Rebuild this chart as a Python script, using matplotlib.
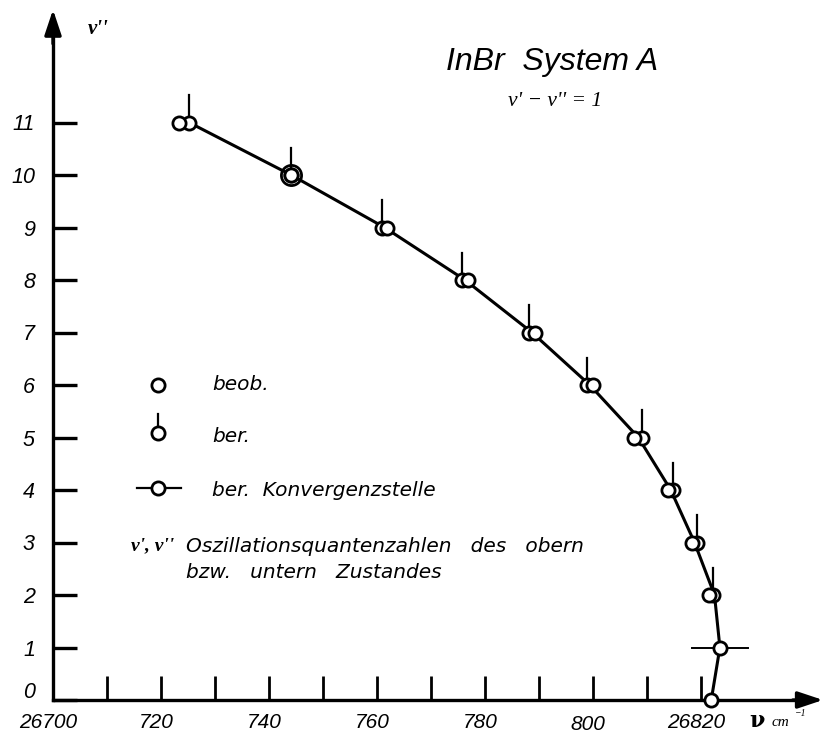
"""InBr System A, v'-v''=1: Kantenlage gegen v'' (nachgezeichnet)."""
import matplotlib
matplotlib.use('Agg')
import matplotlib.pyplot as plt
from matplotlib.ticker import FixedLocator, FixedFormatter
from matplotlib.transforms import ScaledTranslation

plt.rcParams.update({'font.family': 'Liberation Sans', 'font.style': 'italic'})

# --- data (wavenumber offset from 26700 cm-1) ---
V = [11, 10, 9, 8, 7, 6, 5, 4, 3, 2, 1, 0]
BEOB = [23.3, 44.1, 61.9, 76.9, 89.3, 100.0, 107.6, 113.9, 118.3, 121.5, None, 121.9]
BER = [25.2, 44.1, 60.9, 75.7, 88.2, 98.9, 109.1, 114.8, 119.3, 122.3, None, None]
CURVE = [25.2, 44.1, 61.4, 76.3, 88.7, 99.4, 108.4, 114.4, 118.8, 122.5, 123.5, 121.9]
KONV_V, KONV_NU, KONV_ERR = 1, 123.5, 5.2
XTICKS = list(range(0, 130, 10))
XLABELS = ['26700', '', '720', '', '740', '', '760', '', '780', '', '800', '', '26820']
YTICKS = list(range(0, 12))

W, H = 826, 735
fig = plt.figure(figsize=(W / 100, H / 100), dpi=100)
ax = fig.add_axes([0, 0, 1, 1])
# axis origin sits at pixel (53, 700); 5.4 px per cm-1, 52.5 px per v''
ax.set_xlim(-53 / 5.4, (W - 53) / 5.4)
ax.set_ylim(-(H - 700) / 52.5, 700 / 52.5)


def px(x, y):
  return x / W, 1 - y / H


def shift(artist, dx, dy):
  artist.set_transform(artist.get_transform() + ScaledTranslation(dx / 100, -dy / 100, fig.dpi_scale_trans))


# axes as spines with arrow heads
for s in ['top', 'right']:
  ax.spines[s].set_visible(False)
ax.spines['left'].set_position(('data', 0))
ax.spines['bottom'].set_position(('data', 0))
ax.spines['left'].set_bounds(0, 12.7)
ax.spines['bottom'].set_bounds(0, 139)
ax.spines['left'].set_linewidth(2.4)
ax.spines['bottom'].set_linewidth(2.4)
arr = dict(arrowstyle='-|>,head_length=0.9,head_width=0.3', lw=2.4, color='black',
           mutation_scale=17, shrinkA=0, shrinkB=0)
ax.annotate('', xy=(0, 13.15), xytext=(0, 12.5), arrowprops=arr)
ax.annotate('', xy=(142.6, 0), xytext=(137, 0), arrowprops=arr)

ax.xaxis.set_major_locator(FixedLocator(XTICKS))
ax.xaxis.set_major_formatter(FixedFormatter(XLABELS))
ax.yaxis.set_major_locator(FixedLocator(YTICKS))
ax.set_yticklabels([str(v) for v in YTICKS])
ax.tick_params(axis='x', direction='in', length=17, width=2.0, pad=9, labelsize=15)
ax.tick_params(axis='y', direction='in', length=17, width=2.4, pad=13, labelsize=15.5)
for lab in ax.get_xticklabels() + ax.get_yticklabels():
  lab.set_style('italic')
for lab in ax.get_xticklabels():
  shift(lab, -5, 3 if lab.get_text() == '800' else 0)
shift(ax.get_yticklabels()[0], 0, -10)

# curve through the band heads
ax.plot(CURVE, V, color='black', lw=2.2, zorder=2)

# computed positions: circle with tick above
for v, b in zip(V, BER):
  if b is None:
    continue
  ax.plot([b, b], [v, v + 0.52], color='black', lw=1.6, zorder=3)
  ax.plot(b, v, 'o', ms=9.5, mfc='white', mec='black', mew=2.0, zorder=4)
# observed positions
for v, o, b in zip(V, BEOB, BER):
  if o is None:
    continue
  ax.plot(o, v, 'o', ms=9.5, mfc='white', mec='black', mew=2.0, zorder=5)
  if b is not None and abs(o - b) < 0.05:
    ax.plot(o, v, 'o', ms=14.5, mfc='none', mec='black', mew=2.0, zorder=5)
# computed convergence point
ax.plot([KONV_NU - KONV_ERR, KONV_NU + KONV_ERR], [KONV_V, KONV_V], color='black', lw=1.4, zorder=3)
ax.plot(KONV_NU, KONV_V, 'o', ms=9.5, mfc='white', mec='black', mew=2.0, zorder=5)

# title
ax.text(*px(552, 62), 'InBr  System A', transform=ax.transAxes, ha='center', va='center',
        fontsize=23)
ax.text(*px(555, 101), "v' \u2212 v'' = 1", transform=ax.transAxes, ha='center', va='center',
        fontsize=15.5, family='Liberation Serif')

# axis labels
ax.text(*px(98, 29), "v''", transform=ax.transAxes, ha='center', va='center',
        fontsize=15, family='Liberation Serif', weight='bold')
ax.text(*px(757, 721), '\u03bd', transform=ax.transAxes, ha='center', va='center',
        fontsize=16, family='DejaVu Serif', weight='bold', style='normal')
ax.text(*px(772, 722), 'cm', transform=ax.transAxes, ha='left', va='center',
        fontsize=11, family='Liberation Serif')
ax.text(*px(795, 714), '\u22121', transform=ax.transAxes, ha='left', va='center',
        fontsize=7, family='Liberation Serif')

# legend, drawn by hand
kw = dict(transform=ax.transAxes, clip_on=False)
mk = dict(ms=9.5, mfc='white', mec='black', mew=2.0)
ax.plot(*px(158, 385), 'o', zorder=5, **mk, **kw)
x0, y0 = px(158, 433)
x1, y1 = px(158, 414)
ax.plot([x0, x1], [y0, y1], color='black', lw=1.6, zorder=3, **kw)
ax.plot(x0, y0, 'o', zorder=5, **mk, **kw)
xa, ya = px(137, 488)
xb, _ = px(181, 488)
ax.plot([xa, xb], [ya, ya], color='black', lw=1.6, zorder=3, **kw)
ax.plot(*px(158, 488), 'o', zorder=5, **mk, **kw)

tk = dict(transform=ax.transAxes, ha='left', va='center', fontsize=14.5, family='DejaVu Sans')
ax.text(*px(212, 384), 'beob.', **tk)
ax.text(*px(212, 437), 'ber.', **tk)
ax.text(*px(212, 490), 'ber.  Konvergenzstelle', **tk)
ax.text(*px(131, 546), "v', v''", transform=ax.transAxes, ha='left', va='center',
        fontsize=14, family='Liberation Serif', weight='bold')
ax.text(*px(186, 546), 'Oszillationsquantenzahlen   des   obern', **tk)
ax.text(*px(186, 573), 'bzw.   untern   Zustandes', **tk)

fig.savefig('out.png', dpi=100, facecolor='white')
